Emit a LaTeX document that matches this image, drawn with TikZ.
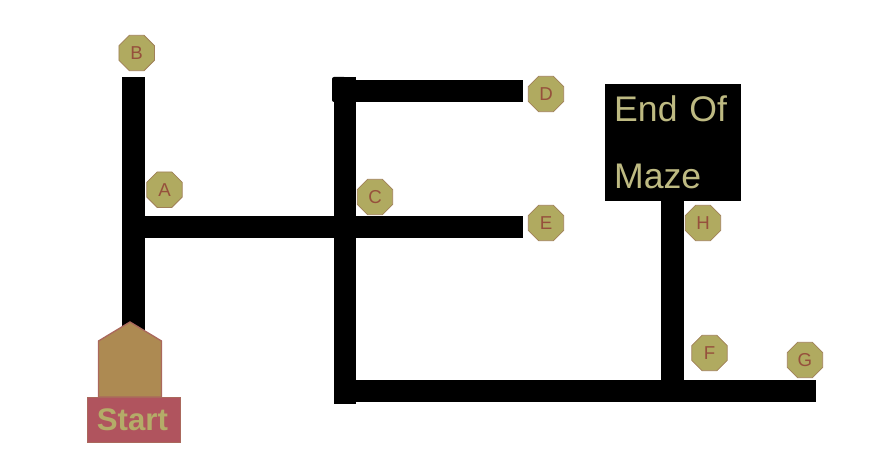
\documentclass[tikz,border=0pt]{standalone}
\usepackage{fontspec}
\setmainfont{Liberation Sans}
\usetikzlibrary{shapes.geometric,positioning}
\definecolor{tagolive}{RGB}{176,170,96}
\definecolor{tagedge}{RGB}{160,128,88}
\definecolor{tagtext}{RGB}{150,80,60}
\definecolor{mazetext}{RGB}{190,186,130}
\definecolor{startred}{RGB}{176,84,94}
\definecolor{starttan}{RGB}{173,138,82}
\definecolor{startedge}{RGB}{170,104,92}
\definecolor{starttext}{RGB}{180,172,104}

\begin{document}
\begin{tikzpicture}[
 x=0.75pt, y=-0.75pt,
 tag/.style={regular polygon, regular polygon sides=8, draw=tagedge, fill=tagolive, line width=0.6pt, minimum size=28.8pt, inner sep=0pt, text=tagtext, font=\fontsize{14}{14}\selectfont},
 wall/.style={draw=black, line width=16.8pt},
 endbox/.style={rectangle, fill=black, anchor=north west, minimum width=102.5pt, minimum height=87.5pt, inner xsep=7.2pt, inner ysep=0pt, text width=88pt, align=left, text=mazetext, font=\fontsize{26.7}{50}\selectfont},
 startbox/.style={rectangle, draw=startedge, fill=startred, line width=0.6pt, minimum width=70pt, minimum height=34pt, inner sep=0pt, text=starttext, font=\fontsize{23.4}{24}\selectfont\bfseries}
]
\useasboundingbox (0,0) rectangle (876,459);

% Corridor ends and junctions
\coordinate (b_end) at (133.5,77);
\coordinate (start_top) at (133.5,330);
\coordinate (a_turn) at (133.5,227);
\coordinate (e_end) at (522.5,227);
\coordinate (c_top) at (345,77);
\coordinate (c_bottom) at (345,404);
\coordinate (d_turn) at (345,91);
\coordinate (d_end) at (522.5,91);
\coordinate (f_turn) at (345,391);
\coordinate (g_end) at (815.5,391);
\coordinate (h_bottom) at (672.5,391);

% End box
\node[endbox] (maze_end) at (604.3,83.7) {End Of\\Maze};
\coordinate (h_top) at (672.5,200);

% Corridors
\draw[wall] (start_top) -- (b_end);
\draw[wall] (a_turn) -- (e_end);
\draw[wall] (c_top) -- (c_bottom);
\draw[wall] (d_turn) -- (d_end);
\draw[wall] (f_turn) -- (g_end);
\draw[wall] (h_top) -- (h_bottom);

% Corner stub
\fill[black, rounded corners=1.5pt] (332,77) rectangle (346,102);

% Start
\node[startbox] (start) at (133.7,420) {\kern-2pt Start};
\draw[draw=startedge, fill=starttan, line width=1pt] (98.5,397) -- (98.5,341) -- (130,322) -- (161.5,341) -- (161.5,397) -- cycle;

% Tags
\node[tag] (tag_b) at (136.7,53) {B};
\node[tag] (tag_a) at (164.5,189.7) {A};
\node[tag] (tag_c) at (375,197) {C};
\node[tag] (tag_d) at (546,94) {D};
\node[tag] (tag_e) at (546,223) {E};
\node[tag] (tag_h) at (703,223) {H};
\node[tag] (tag_f) at (709.5,353) {F};
\node[tag] (tag_g) at (805,360) {G};

\end{tikzpicture}
\end{document}
